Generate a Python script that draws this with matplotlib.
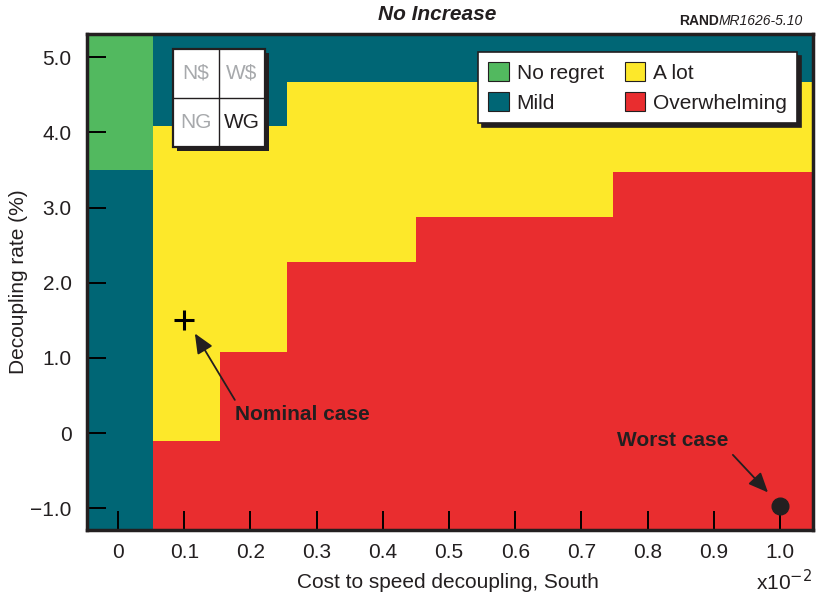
import matplotlib.pyplot as plt
import matplotlib.patches as patches

plt.rcParams['font.family'] = ['Liberation Sans', 'DejaVu Sans']

# column edges along the cost axis (x 10^-2)
col_edges = [-0.047, 0.053, 0.154, 0.255, 0.45, 0.748, 1.05]
y_bottom, y_top = -1.29, 5.31

# upper boundary of each regret band per column (stacked from the bottom)
overwhelming_top = [-1.29, -0.11, 1.085, 2.28, 2.87, 3.47]
alot_top = [-1.29, 4.09, 4.09, 4.67, 4.67, 4.67]
mild_top = [3.5, 5.31, 5.31, 5.31, 5.31, 5.31]
noregret_top = [5.31, 5.31, 5.31, 5.31, 5.31, 5.31]

categories = ['No regret', 'Mild', 'A lot', 'Overwhelming']
colors = {'No regret': '#52b95f', 'Mild': '#006675',
          'A lot': '#fde82a', 'Overwhelming': '#e92d2f'}

xticks = [0, 0.1, 0.2, 0.3, 0.4, 0.5, 0.6, 0.7, 0.8, 0.9, 1.0]
xticklabels = ['0', '0.1', '0.2', '0.3', '0.4', '0.5', '0.6', '0.7', '0.8', '0.9', '1.0']
yticks = [-1, 0, 1, 2, 3, 4, 5]
yticklabels = ['\u22121.0', '0', '1.0', '2.0', '3.0', '4.0', '5.0']

nominal = (0.1, 1.5)
worst = (1.0, -0.965)

dark = '#231f20'
fs = 15

fig = plt.figure(figsize=(8.17, 6.0), dpi=100)
ax = fig.add_axes([87 / 817, 70 / 600, 726 / 817, 496 / 600])

lefts = col_edges[:-1]
widths = [b - a for a, b in zip(col_edges[:-1], col_edges[1:])]
stack = [('Overwhelming', overwhelming_top), ('A lot', alot_top),
         ('Mild', mild_top), ('No regret', noregret_top)]
prev = [y_bottom] * len(lefts)
for name, tops in stack:
    heights = [t - p for t, p in zip(tops, prev)]
    ax.bar(lefts, heights, width=widths, bottom=prev, align='edge',
           color=colors[name], edgecolor='none', zorder=1)
    prev = tops

ax.set_xlim(col_edges[0], col_edges[-1])
ax.set_ylim(y_bottom, y_top)

ax.set_xticks(xticks)
ax.set_xticklabels(xticklabels, fontsize=fs, color=dark)
ax.set_yticks(yticks)
ax.set_yticklabels(yticklabels, fontsize=fs, color=dark)
ax.tick_params(direction='in', length=14, width=1.4)
ax.tick_params(axis='x', pad=9)
ax.tick_params(axis='y', pad=11)
for t, v in zip(ax.xaxis.get_major_ticks(), xticks):
    t.tick1line.set_color('white' if v < col_edges[1] else dark)
for t, v in zip(ax.yaxis.get_major_ticks(), yticks):
    t.tick1line.set_color(dark if v > mild_top[0] else 'white')
for s in ax.spines.values():
    s.set_linewidth(2.5)
    s.set_color(dark)
    s.set_zorder(5)

fig.text(448 / 817, 1 - 582 / 600, 'Cost to speed decoupling, South', fontsize=fs,
         color=dark, ha='center', va='center')
fig.text(19 / 817, 1 - 282 / 600, 'Decoupling rate (%)', fontsize=fs, color=dark,
         rotation=90, ha='center', va='center')
fig.text(812 / 817, 1 - 582 / 600, 'x10$^{-2}$', fontsize=fs, color=dark,
         ha='right', va='center')

fig.text(437 / 817, 1 - 14 / 600, 'No Increase', fontsize=fs, fontweight='bold',
         fontstyle='italic', ha='center', va='center', color=dark)
fig.text(719 / 817, 1 - 21 / 600, 'RAND', fontsize=10, fontweight='bold',
         ha='right', va='center', color=dark)
fig.text(719 / 817, 1 - 21 / 600, 'MR1626-5.10', fontsize=10, fontstyle='italic',
         ha='left', va='center', color=dark)

# markers
ax.plot(*nominal, marker='+', markersize=14, markeredgewidth=2.2, color='black', zorder=4)
ax.plot(*worst, marker='o', markersize=12, color=dark, zorder=4)

arrow = dict(arrowstyle='-|>,head_length=0.8,head_width=0.35', color=dark, lw=1.3, shrinkB=0)
ax.annotate('Nominal case', xy=(0.116, 1.325), xytext=(0.177, 0.246),
            fontsize=fs, fontweight='bold', color=dark, va='center', ha='left',
            arrowprops=dict(arrow, relpos=(0.02, 1.0), shrinkA=2))
ax.annotate('Worst case', xy=(0.982, -0.79), xytext=(0.838, -0.10),
            fontsize=fs, fontweight='bold', color=dark, va='center', ha='center',
            arrowprops=dict(arrow, relpos=(1.0, 0.0), shrinkA=2))

# legend
handles = [patches.Patch(facecolor=colors[c], edgecolor=dark, linewidth=0.8)
           for c in ['No regret', 'Mild', 'A lot', 'Overwhelming']]
leg = ax.legend(handles, ['No regret', 'Mild', 'A lot', 'Overwhelming'], ncol=2,
                loc='upper right', bbox_to_anchor=((797 - 87) / 726, 1 - 18 / 496),
                borderaxespad=0, fontsize=fs, frameon=True, fancybox=False,
                shadow={'color': dark, 'alpha': 1, 'ox': 3, 'oy': -3},
                handlelength=1.0, handleheight=1.0, handletextpad=0.35,
                columnspacing=1.0, labelspacing=0.45, borderpad=0.5, edgecolor=dark)
leg.get_frame().set_linewidth(1.2)
for txt in leg.get_texts():
    txt.set_color(dark)

# inset 2x2 key
ix0, iy0, iw, ih = (173 - 87) / 726, (530 - 147) / 496, 92 / 726, 98 / 496
ax.add_patch(patches.Rectangle((ix0 + 4 / 726, iy0 - 4 / 496), iw, ih, transform=ax.transAxes,
                               facecolor=dark, edgecolor='none', zorder=6))
ax.add_patch(patches.Rectangle((ix0, iy0), iw, ih, transform=ax.transAxes,
                               facecolor='white', edgecolor=dark, linewidth=1.6, zorder=7))
ax.plot([ix0 + iw / 2] * 2, [iy0, iy0 + ih], transform=ax.transAxes, color=dark, lw=1, zorder=8)
ax.plot([ix0, ix0 + iw], [iy0 + ih / 2] * 2, transform=ax.transAxes, color=dark, lw=1, zorder=8)
cells = [('N$', 0, 1, '#a7a9ac'), ('W$', 1, 1, '#a7a9ac'),
         ('NG', 0, 0, '#a7a9ac'), ('WG', 1, 0, dark)]
for lab, cx, cy, col in cells:
    ax.text(ix0 + iw * (0.25 + 0.5 * cx), iy0 + ih * (0.25 + 0.5 * cy), lab,
            transform=ax.transAxes, ha='center', va='center', fontsize=fs,
            color=col, zorder=9)

fig.savefig('out.png', dpi=100)
